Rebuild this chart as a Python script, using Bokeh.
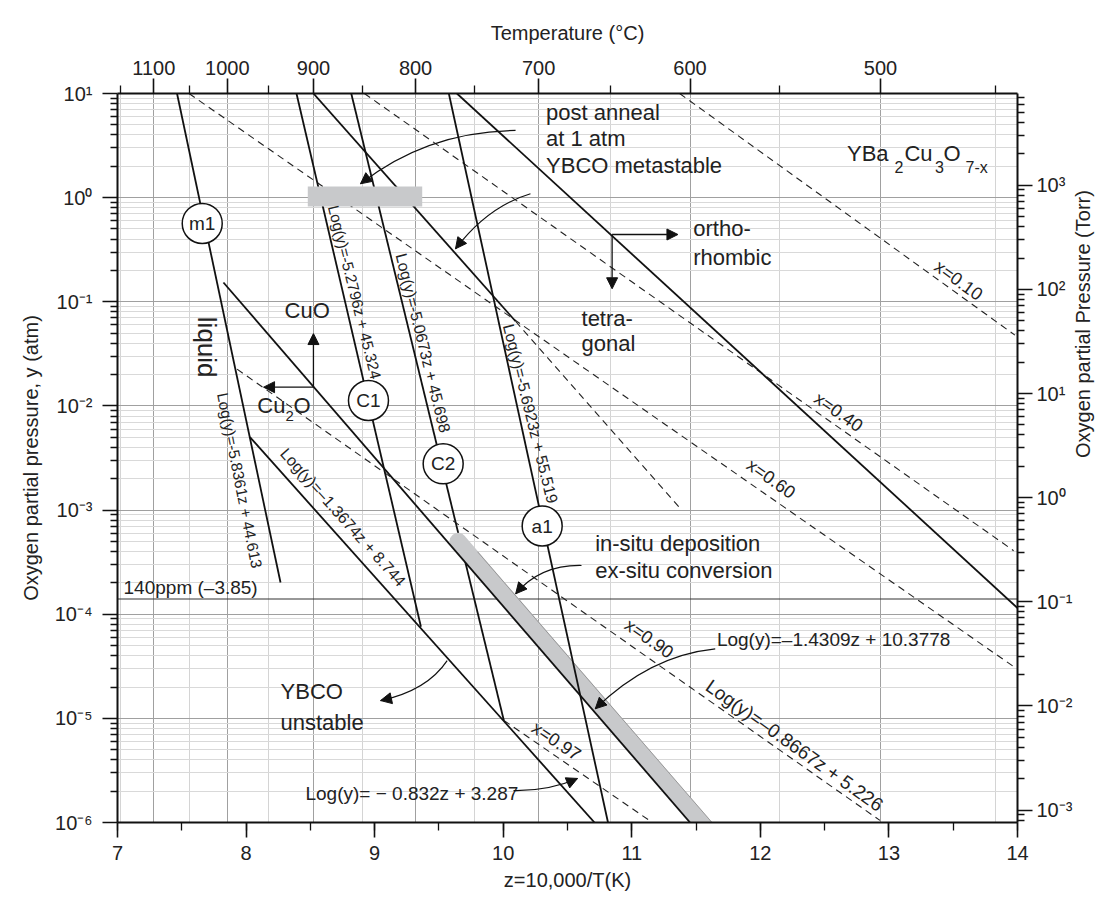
import math
from bokeh.plotting import figure
from bokeh.models import (Range1d, LinearAxis, LogAxis, LogScale, FixedTicker,
                          SingleIntervalTicker, CustomJSTickFormatter, Arrow, NormalHead)
from bokeh.core.properties import value
from bokeh.embed import file_html
from bokeh.resources import INLINE

FONT = "Liberation Sans"

# ---------------- data ----------------
temp_major_C = [1100, 1000, 900, 800, 700, 600, 500]
temp_minor_C = [1150, 1050, 950, 850, 750, 650, 550, 450]
atm_decades = [-6, -5, -4, -3, -2, -1, 0, 1]
torr_decades = [-3, -2, -1, 0, 1, 2, 3]
minor_mult = [2, 3, 4, 5, 6, 7, 8, 9]
ppm_level = -3.854  # log10(140 ppm)

# solid phase boundaries: z (=10000/T) and log10(pO2/atm) at both ends
solid_names = ["m1", "C1", "C2", "-1.3674", "meta", "orth"]
solid_z0 = [7.463, 8.392, 8.818, 8.03, 8.524, 9.640]
solid_l0 = [1.0, 1.0, 1.0, -2.30, 1.0, 1.0]
solid_z1 = [8.268, 9.36, 10.005, 10.71, 10.096, 14.0]
solid_l1 = [-3.696, -4.12, -5.02, -6.0, -1.187, -3.94]

# lines drawn above the in-situ band
a1_z = [9.577, 10.815]
a1_l = [1.0, -6.0]
insitu_z = [7.824, 11.453]
insitu_l = [-0.815, -6.0]

# dashed iso-composition lines
dash_names = ["x=0.10", "x=0.40", "x=0.60", "x=0.90", "x=0.97", "meta-ext"]
dash_z0 = [11.372, 8.92, 7.556, 7.93, 10.005, 10.096]
dash_l0 = [1.0, 1.0, 1.0, -1.647, -5.02, -1.187]
dash_z1 = [13.98, 13.97, 13.977, 12.93, 11.16, 11.379]
dash_l1 = [-1.32, -3.39, -4.509, -5.98, -6.0, -2.988]

# in-situ processing band (centre line) and its half width in z
band_z = [9.649, 11.748]
band_l = [-3.30, -6.30]
band_edge_z = [9.80, 11.624]
band_edge_l = [-3.40, -6.0]

# post anneal bar at 1 atm
bar_z = [8.48, 9.37]
bar_l = [-0.086, 0.107]

# invariant point markers
pt_names = ["m1", "C1", "C2", "a1"]
pt_z = [7.659, 8.952, 9.533, 10.303]
pt_l = [-0.248, -1.948, -2.556, -3.153]

# ---------------- figure ----------------
p = figure(frame_width=900, frame_height=729,
           x_range=Range1d(7, 14), y_range=Range1d(1e-6, 10),
           y_axis_type="log", output_backend="svg", toolbar_location=None,
           min_border_left=117, min_border_right=103, min_border_top=93,
           min_border_bottom=40, background_fill_color="white",
           border_fill_color="white")
p.outline_line_color = None

sup_code = """
const sup = {"-":"\\u207b","0":"\\u2070","1":"\\u00b9","2":"\\u00b2","3":"\\u00b3",
             "4":"\\u2074","5":"\\u2075","6":"\\u2076","7":"\\u2077","8":"\\u2078","9":"\\u2079"};
const e = Math.round(Math.log10(tick));
let s = "";
for (const c of String(e)) { s += sup[c]; }
return "10" + s;
"""

atm_ticker = FixedTicker(ticks=[10.0 ** e for e in atm_decades],
                         minor_ticks=[m * 10.0 ** e for e in range(-7, 2) for m in minor_mult])
torr_ticker = FixedTicker(ticks=[10.0 ** e for e in torr_decades],
                          minor_ticks=[m * 10.0 ** e for e in range(-4, 4) for m in minor_mult])
tz_major = [10000.0 / (t + 273.15) for t in temp_major_C]
tz_minor = [10000.0 / (t + 273.15) for t in temp_minor_C]
temp_ticker = FixedTicker(ticks=tz_major, minor_ticks=tz_minor)

bottom = p.below[0]
left = p.left[0]
bottom.ticker = SingleIntervalTicker(interval=1, num_minor_ticks=2)
bottom.axis_label = "z=10,000/T(K)"
left.ticker = atm_ticker
left.formatter = CustomJSTickFormatter(code=sup_code)
left.axis_label = "Oxygen partial pressure, y (atm)"

top = LinearAxis(ticker=temp_ticker, axis_label="Temperature (\u00b0C)",
                 formatter=CustomJSTickFormatter(code="return String(Math.round(10000/tick - 273.15));"))
p.add_layout(top, "above")

p.extra_y_ranges = {"torr": Range1d(760e-6, 7600)}
p.extra_y_scales = {"torr": LogScale()}
right = LogAxis(y_range_name="torr", ticker=torr_ticker,
                formatter=CustomJSTickFormatter(code=sup_code),
                axis_label="Oxygen partial Pressure (Torr)")
p.add_layout(right, "right")
if "axis_label_orientation" in right.properties():
    right.axis_label_orientation = math.pi / 2

for ax in [bottom, left, top, right]:
    ax.axis_line_width = 2
    ax.axis_line_color = "#111111"
    ax.major_tick_line_width = 1.6
    ax.minor_tick_line_width = 1.3
    ax.major_tick_line_color = "#111111"
    ax.minor_tick_line_color = "#111111"
    ax.major_tick_in = 0
    ax.minor_tick_in = 0
    ax.major_tick_out = 15
    ax.minor_tick_out = 8
    ax.major_label_text_font = FONT
    ax.major_label_text_font_size = "20px"
    ax.major_label_text_color = "#222222"
    ax.axis_label_text_font = FONT
    ax.axis_label_text_font_size = "20px"
    ax.axis_label_text_font_style = "normal"
    ax.axis_label_text_color = "#222222"

left.minor_tick_out = 7
right.minor_tick_out = 7
bottom.major_label_standoff = 8
bottom.axis_label_standoff = 6
top.major_label_standoff = 4
top.axis_label_standoff = 14
left.major_label_standoff = 10
left.axis_label_standoff = 10
right.major_label_standoff = 4
right.axis_label_standoff = 8

p.xgrid.ticker = temp_ticker
p.xgrid.grid_line_color = "#a0a0a0"
p.xgrid.minor_grid_line_color = "#d4d4d4"
p.ygrid.ticker = atm_ticker
p.ygrid.grid_line_color = "#a0a0a0"
p.ygrid.minor_grid_line_color = "#d9d9d9"

def Y(ls):
    return [10.0 ** v for v in ls]

# 140 ppm line
p.line([7, 14], Y([ppm_level, ppm_level]), line_color="#333333", line_width=1.2)

# dashed iso-x lines
p.segment(x0=dash_z0, y0=Y(dash_l0), x1=dash_z1, y1=Y(dash_l1),
          line_color="#222222", line_width=1.1, line_dash="7 5")

# solid boundaries
p.segment(x0=solid_z0, y0=Y(solid_l0), x1=solid_z1, y1=Y(solid_l1),
          line_color="#111111", line_width=1.8)

# in-situ band
p.line(band_z, Y(band_l), line_color="#c8c9cb", line_width=17, line_cap="round")
p.line(band_edge_z, Y(band_edge_l), line_color="#8a8a8a", line_width=0.8)
p.line(a1_z, Y(a1_l), line_color="#111111", line_width=1.8)
p.line(insitu_z, Y(insitu_l), line_color="#111111", line_width=1.8)

# post anneal bar
p.quad(left=[bar_z[0]], right=[bar_z[1]], bottom=[10 ** bar_l[0]], top=[10 ** bar_l[1]],
       fill_color="#c8c9cb", line_color=None)

# point markers
p.scatter(pt_z, Y(pt_l), marker="circle", size=40, fill_color="white",
          line_color="#111111", line_width=1.5)
p.text(pt_z, Y(pt_l), text=pt_names, text_font=value(FONT), text_font_size=value("19px"),
       text_align="center", text_baseline="middle", text_color="#222222")

def txt(z, l, s, size, align="left", angle=0.0, baseline="middle"):
    p.text([z], [10 ** l], text=[s], text_font=value(FONT), text_font_size=value(size),
           text_align=align, text_baseline=baseline, angle=angle, angle_units="deg",
           text_color="#222222")

BIG = "22px"
txt(10.333, 0.820, "post anneal", BIG)
txt(10.333, 0.565, "at 1 atm", BIG)
txt(10.333, 0.309, "YBCO metastable", BIG)
txt(12.674, 0.421, "YBa", BIG)
txt(13.043, 0.29, "2", "16px")
txt(13.121, 0.421, "Cu", BIG)
txt(13.358, 0.29, "3", "16px")
txt(13.424, 0.421, "O", BIG)
txt(13.596, 0.29, "7-x", "16px")
txt(11.478, -0.299, "ortho-", BIG)
txt(11.478, -0.572, "rhombic", BIG)
txt(10.609, -1.163, "tetra-", BIG)
txt(10.609, -1.403, "gonal", BIG)
txt(10.715, -3.324, "in-situ deposition", BIG)
txt(10.715, -3.580, "ex-situ conversion", BIG)
txt(8.268, -4.739, "YBCO", BIG)
txt(8.268, -5.037, "unstable", BIG)
txt(8.475, -1.084, "CuO", BIG, align="center")
txt(8.087, -1.996, "Cu", BIG)
txt(8.307, -2.092, "2", "15px")
txt(8.369, -1.996, "O", BIG)
txt(7.698, -1.436, "liquid", "26px", align="center", angle=-90)
txt(7.047, -3.741, "140ppm (\u20133.85)", "19px")
txt(11.662, -4.246, "Log(y)=\u20131.4309z + 10.3778", "19px")
txt(8.462, -5.724, "Log(y)= \u2212 0.832z + 3.287", "19px")
txt(12.266, -5.261, "Log(y)=\u20130.8667z + 5.226", "19px", align="center", angle=-35.4)
txt(7.950, -2.716, "Log(y)=-5.8361z + 44.613", "15.5px", align="center", angle=-78.8)
txt(8.845, -0.908, "Log(y)=-5.2796z + 45.324", "15.5px", align="center", angle=-76)
txt(9.376, -1.396, "Log(y)=-5.0673z + 45.698", "16px", align="center", angle=-76)
txt(10.212, -2.076, "Log(y)=-5.6923z + 55.519", "16px", align="center", angle=-76)
txt(8.754, -3.069, "Log(y)=\u20131.3674z + 8.744", "16px", align="center", angle=-48.2)
txt(13.541, -0.796, "x=0.10", "18px", align="center", angle=-36)
txt(12.608, -2.060, "x=0.40", "18px", align="center", angle=-35)
txt(12.083, -2.700, "x=0.60", "18px", align="center", angle=-35)
txt(11.135, -4.236, "x=0.90", "18px", align="center", angle=-35)
txt(10.413, -5.219, "x=0.97", "18px", align="center", angle=-34)

# arrows
def head_arrow(z0, l0, z1, l1, size=11):
    p.add_layout(Arrow(end=NormalHead(size=size, fill_color="#111111", line_color="#111111",
                                      line_width=1),
                       x_start=z0, y_start=10 ** l0, x_end=z1, y_end=10 ** l1,
                       line_color="#111111", line_width=1.3))

# straight arrows
head_arrow(10.847, -0.354, 11.359, -0.354)
head_arrow(10.847, -0.354, 10.847, -0.875)
head_arrow(8.524, -1.820, 8.524, -1.305)
head_arrow(8.524, -1.820, 8.136, -1.820)

# curved arrows: start, control, tip in (z, log y)
curves = [
    ((10.096, 0.645), (9.411, 0.635), (8.890, 0.133)),
    ((10.212, 0.037), (9.882, -0.083), (9.629, -0.491)),
    ((10.609, -3.532), (10.289, -3.525), (10.097, -3.804)),
    ((11.649, -4.332), (11.140, -4.397), (10.716, -4.908)),
    ((9.564, -4.445), (9.408, -4.733), (9.046, -4.829)),
    ((10.080, -5.693), (10.355, -5.698), (10.578, -5.577)),
]
for (s, c, t) in curves:
    p.quadratic(x0=[s[0]], y0=[10 ** s[1]], x1=[t[0]], y1=[10 ** t[1]],
                cx=[c[0]], cy=[10 ** c[1]], line_color="#111111", line_width=1.2)
    dz, dl = t[0] - c[0], t[1] - c[1]
    p.add_layout(Arrow(end=NormalHead(size=11, fill_color="#111111", line_color="#111111",
                                      line_width=1),
                       x_start=t[0] - 0.06 * dz, y_start=10 ** (t[1] - 0.06 * dl),
                       x_end=t[0], y_end=10 ** t[1], line_color="#111111", line_width=1.2))

open("out.html", "w").write(file_html(p, INLINE))
